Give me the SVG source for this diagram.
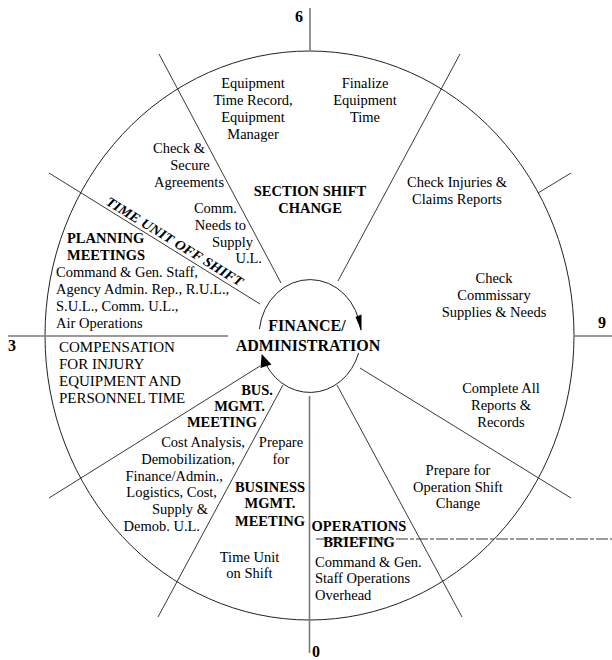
<svg xmlns="http://www.w3.org/2000/svg" width="612" height="660" viewBox="0 0 612 660">
<style>
  .t { font-family: "Liberation Serif", "Times New Roman", serif; font-size: 14.5px; fill: #000; }
  .b { font-family: "Liberation Serif", "Times New Roman", serif; font-size: 14.5px; font-weight: bold; fill: #000; }
  .c { text-anchor: middle; }
  .e { text-anchor: end; }
  .num { font-family: "Liberation Serif", "Times New Roman", serif; font-size: 16px; font-weight: bold; fill: #000; }
  .spoke { stroke: #222; stroke-width: 0.9; fill: none; }
  .axis { stroke: #7a7a7a; stroke-width: 1.6; fill: none; }
  .ring { stroke: #222; stroke-width: 1; fill: none; }
</style>
<rect width="612" height="660" fill="#fff"/>

<g id="connectors">
  <ellipse class="ring" cx="309.5" cy="335.5" rx="264.5" ry="284.5"/>
  <line class="axis" x1="310" y1="8" x2="310" y2="51"/>
  <line class="axis" x1="8" y1="336" x2="228" y2="336"/>
  <line class="axis" x1="574" y1="336" x2="612" y2="336"/>
  <line class="axis" x1="309.5" y1="396" x2="309.5" y2="653"/>
  <line class="spoke" x1="159" y1="54" x2="281" y2="283"/>
  <line class="spoke" x1="49" y1="173" x2="260" y2="304"/>
  <line class="spoke" x1="49" y1="498" x2="260" y2="366"/>
  <line class="spoke" x1="158" y1="617" x2="283" y2="385"/>
  <line class="spoke" x1="337" y1="385" x2="462" y2="617"/>
  <line class="spoke" x1="360" y1="368" x2="571" y2="498"/>
  <line class="spoke" x1="538" y1="193" x2="571" y2="173"/>
  <line class="spoke" x1="460" y1="54" x2="338" y2="281"/>
  <line class="spoke" x1="316" y1="539" x2="612" y2="539" stroke-dasharray="12 2 4 2"/>
</g>

<g id="finance-administration">
  <path class="ring" d="M 259.4 329 A 51 56.5 0 0 1 360.7 330"/>
  <path class="ring" d="M 358.6 353 A 51 56.5 0 0 1 262.3 356"/>
  <polygon points="355.5,317 361.5,314.5 361.5,331" fill="#000"/>
  <polygon points="261.7,354 271.5,364.5 260.5,368" fill="#000"/>
  <text class="b c" x="307" y="331" style="font-size:16px">FINANCE/</text>
  <text class="b c" x="308" y="351" style="font-size:16px">ADMINISTRATION</text>
</g>

<g id="clock-numbers">
  <text class="num" x="295" y="22">6</text>
  <text class="num" x="8" y="351">3</text>
  <text class="num" x="598" y="328">9</text>
  <text class="num" x="312" y="657">0</text>
</g>

<g id="equipment-time-record">
  <text class="t c" x="253" y="88">Equipment</text>
  <text class="t c" x="253" y="105">Time Record,</text>
  <text class="t c" x="253" y="122">Equipment</text>
  <text class="t c" x="253" y="139">Manager</text>
</g>

<g id="finalize-equipment-time">
  <text class="t c" x="365" y="88">Finalize</text>
  <text class="t c" x="365" y="105">Equipment</text>
  <text class="t c" x="365" y="122">Time</text>
</g>

<g id="check-secure-agreements">
  <text class="t c" x="179" y="153">Check &amp;</text>
  <text class="t c" x="190" y="170">Secure</text>
  <text class="t c" x="189" y="187">Agreements</text>
</g>

<g id="comm-needs">
  <text class="t e" x="237" y="213">Comm.</text>
  <text class="t e" x="246" y="230">Needs to</text>
  <text class="t e" x="253" y="247">Supply</text>
  <text class="t e" x="262" y="263">U.L.</text>
</g>

<g id="section-shift-change">
  <text class="b c" x="310" y="196">SECTION SHIFT</text>
  <text class="b c" x="310" y="213">CHANGE</text>
</g>

<g id="check-injuries">
  <text class="t c" x="457" y="187">Check Injuries &amp;</text>
  <text class="t c" x="457" y="204">Claims Reports</text>
</g>

<g id="check-commissary">
  <text class="t c" x="494" y="283">Check</text>
  <text class="t c" x="494" y="300">Commissary</text>
  <text class="t c" x="494" y="317">Supplies &amp; Needs</text>
</g>

<g id="complete-reports">
  <text class="t c" x="501" y="393">Complete All</text>
  <text class="t c" x="501" y="410">Reports &amp;</text>
  <text class="t c" x="501" y="427">Records</text>
</g>

<g id="prepare-operation-shift-change">
  <text class="t c" x="458" y="475">Prepare for</text>
  <text class="t c" x="458" y="492">Operation Shift</text>
  <text class="t c" x="458" y="508">Change</text>
</g>

<g id="operations-briefing">
  <text class="b c" x="359" y="531">OPERATIONS</text>
  <text class="b c" x="359" y="547">BRIEFING</text>
  <text class="t" x="315" y="567">Command &amp; Gen.</text>
  <text class="t" x="315" y="583">Staff Operations</text>
  <text class="t" x="315" y="600">Overhead</text>
</g>

<g id="time-unit-on-shift">
  <text class="t c" x="249.5" y="562">Time Unit</text>
  <text class="t c" x="249.5" y="578">on Shift</text>
</g>

<g id="prepare-business-mgmt-meeting">
  <text class="t c" x="281" y="447">Prepare</text>
  <text class="t c" x="281" y="464">for</text>
  <text class="b c" x="270" y="492">BUSINESS</text>
  <text class="b c" x="270" y="508">MGMT.</text>
  <text class="b c" x="270" y="526">MEETING</text>
</g>

<g id="bus-mgmt-meeting">
  <text class="b e" x="273" y="395">BUS.</text>
  <text class="b e" x="265" y="411">MGMT.</text>
  <text class="b e" x="257" y="427">MEETING</text>
  <text class="t e" x="245" y="447">Cost Analysis,</text>
  <text class="t e" x="235" y="464">Demobilization,</text>
  <text class="t e" x="223" y="481">Finance/Admin.,</text>
  <text class="t e" x="217" y="497">Logistics, Cost,</text>
  <text class="t e" x="208" y="514">Supply &amp;</text>
  <text class="t e" x="200" y="531">Demob. U.L.</text>
</g>

<g id="compensation">
  <text class="t" x="59" y="352" style="font-size:15px">COMPENSATION</text>
  <text class="t" x="59" y="369" style="font-size:15px">FOR INJURY</text>
  <text class="t" x="59" y="386" style="font-size:15px">EQUIPMENT AND</text>
  <text class="t" x="59" y="403" style="font-size:15px">PERSONNEL TIME</text>
</g>

<g id="planning-meetings">
  <text class="b" x="67" y="243">PLANNING</text>
  <text class="b" x="67" y="260">MEETINGS</text>
  <text class="t" x="56" y="277">Command &amp; Gen. Staff,</text>
  <text class="t" x="56" y="294">Agency Admin. Rep., R.U.L.,</text>
  <text class="t" x="56" y="311">S.U.L., Comm. U.L.,</text>
  <text class="t" x="56" y="328">Air Operations</text>
</g>

<g id="time-unit-off-shift">
  <text class="b" x="105" y="204" transform="rotate(31.6 105 204)" style="font-size:13.5px;font-style:italic" textLength="158" lengthAdjust="spacingAndGlyphs">TIME UNIT OFF SHIFT</text>
</g>
</svg>
